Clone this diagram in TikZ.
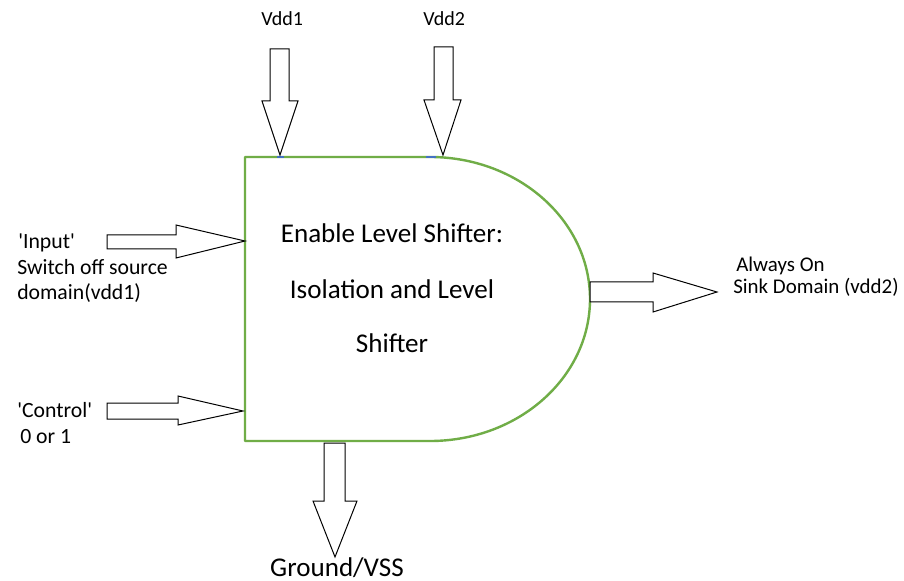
\documentclass[tikz,border=0pt]{standalone}
\usepackage{fontspec}
\setmainfont{Carlito}
\definecolor{gateGreen}{RGB}{112,173,71}
\definecolor{pinBlue}{RGB}{68,114,196}
\begin{document}
\begin{tikzpicture}[x=0.75pt,y=-0.75pt,
  gate/.style={draw=gateGreen, line width=1.8pt, line join=round},
  blockarrow/.style={draw=black, line width=0.75pt, fill=white, line join=miter},
  pinmark/.style={draw=pinBlue, line width=1.8pt},
  small/.style={inner sep=0pt, font=\fontsize{16.3}{19}\selectfont},
  sink/.style={inner sep=0pt, font=\fontsize{15.7}{19}\selectfont},
  supply/.style={inner sep=0pt, font=\fontsize{15}{18}\selectfont},
  big/.style={inner sep=0pt, font=\fontsize{20.3}{24}\selectfont}]
\useasboundingbox (0,0) rectangle (904,581);
\fill[white] (0,0) rectangle (904,581);

% gate body: flat left side, rounded right side
\coordinate (gTL) at (245,157);
\coordinate (gTR) at (430,157);
\coordinate (gBL) at (245,441);
\draw[gate] (gBL) -- (gTL) -- (gTR)
  arc[start angle=90, end angle=-90, x radius=120pt, y radius=106.5pt]
  -- cycle;

% supply pins on the top edge
\draw[pinmark] (277,157) -- (284,157);
\draw[pinmark] (426,157) -- (436,157);

% supply arrows
\draw[blockarrow] (270,49) -- (289,49) -- (289,101) -- (298,101) -- (280,155)
  coordinate (vddOneTip) -- (262,101) -- (270,101) -- cycle;
\draw[blockarrow] (434,47) -- (453,47) -- (453,100) -- (461,100) -- (443,155)
  coordinate (vddTwoTip) -- (424,100) -- (434,100) -- cycle;

% input and control arrows
\draw[blockarrow] (107,235) -- (176,235) -- (176,225) -- (245,241)
  coordinate (inTip) -- (176,258) -- (176,249) -- (107,249) -- cycle;
\draw[blockarrow] (107,403) -- (178,403) -- (178,396) -- (243,411)
  coordinate (ctlTip) -- (178,425) -- (178,419) -- (107,419) -- cycle;

% output arrow
\draw[blockarrow] (590,282) -- (653,282) -- (653,273) -- (717,292)
  coordinate (outTip) -- (653,312) -- (653,302) -- (590,302) -- cycle;

% ground arrow
\draw[blockarrow] (324,443) -- (345,443) -- (345,501) -- (357,501) -- (335,557)
  coordinate (gndTip) -- (313,501) -- (324,501) -- cycle;

% labels
\node[supply, anchor=base west] (vddOne) at (261,26) {Vdd1};
\node[supply, anchor=base west] (vddTwo) at (423,26) {Vdd2};

\node[small, anchor=base west] (inA) at (18,249) {\textquotesingle Input\textquotesingle};
\node[small, anchor=base west] (inB) at (17,275) {Switch off source};
\node[small, anchor=base west] (inC) at (17,300) {domain(vdd1)};

\node[small, anchor=base west] (ctlA) at (17,417) {\textquotesingle Control\textquotesingle};
\node[small, anchor=base west] (ctlB) at (20,443) {0 or 1};

\node[sink, anchor=base west] (outA) at (736,272) {Always On};
\node[sink, anchor=base west] (outB) at (733,293) {Sink Domain (vdd2)};

\node[big, anchor=base] (titleA) at (392,243) {Enable Level Shifter:};
\node[big, anchor=base] (titleB) at (392,298) {Isolation and Level};
\node[big, anchor=base] (titleC) at (392,352) {Shifter};

\node[big, anchor=base] (gnd) at (337,576) {Ground/VSS};
\end{tikzpicture}
\end{document}
